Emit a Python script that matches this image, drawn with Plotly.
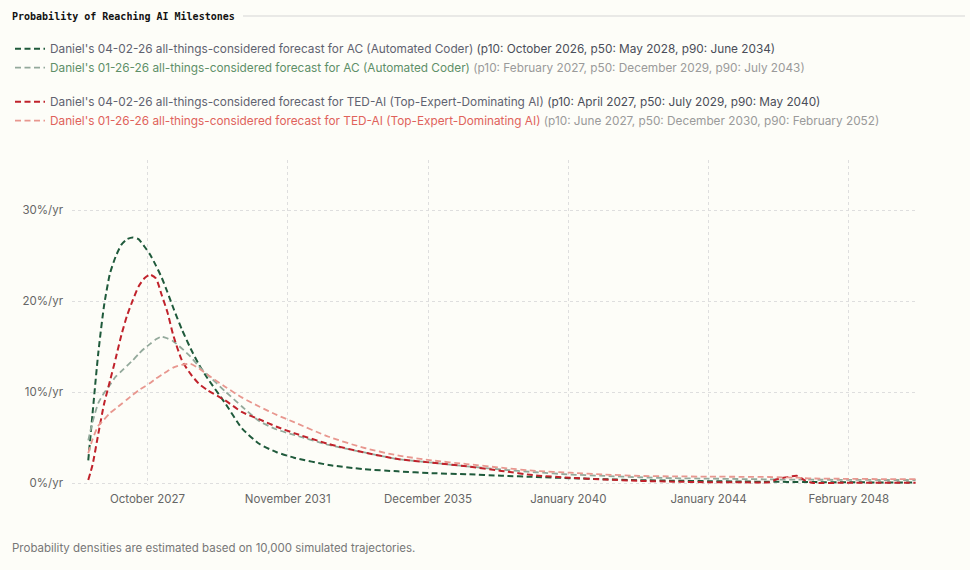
import plotly.graph_objects as go

# Sample dates (shared by all four density curves)
dates = [
    "2026-02-06", "2026-03-23", "2026-05-23", "2026-07-23", "2026-09-23", "2026-11-23",
    "2027-01-23", "2027-03-23", "2027-05-23", "2027-07-23", "2027-09-23", "2027-11-23",
    "2028-01-23", "2028-03-23", "2028-05-23", "2028-07-23", "2028-10-23", "2029-01-23",
    "2029-04-23", "2029-07-23", "2030-01-23", "2030-07-23", "2031-01-23", "2031-07-23",
    "2032-01-23", "2033-01-23", "2034-01-23", "2035-01-23", "2036-01-23", "2037-01-23",
    "2038-01-23", "2039-01-23", "2040-01-23", "2041-01-23", "2042-01-23", "2043-01-23",
    "2044-01-23", "2045-01-23", "2045-10-23", "2046-01-23", "2046-08-23", "2046-10-23",
    "2047-01-23", "2048-01-23", "2049-01-23", "2050-01-23",
]

# Probability density, %/yr
ac_new = [2.5, 7.6, 14.3, 19.5, 23.0, 24.9, 26.2, 26.8, 27.0, 26.8, 26.0, 25.1,
          23.9, 22.6, 21.0, 19.3, 16.9, 14.8, 13.0, 11.5, 8.8, 6.0, 4.3, 3.4,
          2.8, 2.0, 1.55, 1.3, 1.1, 0.98, 0.82, 0.68, 0.55, 0.43, 0.33, 0.27,
          0.22, 0.18, 0.16, 0.15, 0.13, 0.13, 0.12, 0.1, 0.08, 0.07]
ac_old = [4.7, 6.7, 8.8, 9.9, 10.8, 11.7, 12.3, 12.9, 13.5, 14.2, 14.8, 15.3,
          15.8, 16.1, 15.9, 15.6, 14.8, 13.9, 12.8, 11.9, 10.1, 8.4, 6.8, 5.9,
          5.3, 4.2, 3.4, 2.65, 2.25, 1.85, 1.5, 1.2, 0.95, 0.8, 0.65, 0.55,
          0.5, 0.45, 0.42, 0.4, 0.4, 0.4, 0.38, 0.37, 0.35, 0.35]
ted_new = [0.35, 2.0, 5.4, 8.7, 11.2, 13.7, 16.3, 18.4, 20.1, 21.6, 22.5, 22.9,
           22.5, 20.7, 18.8, 16.3, 13.5, 12.0, 10.9, 10.2, 9.1, 7.8, 7.0, 6.2,
           5.5, 4.3, 3.4, 2.65, 2.25, 1.85, 1.35, 0.85, 0.6, 0.4, 0.25, 0.17,
           0.1, 0.1, 0.1, 0.45, 0.8, 0.4, 0.05, 0.05, 0.05, 0.05]
ted_old = [3.3, 4.8, 6.3, 7.0, 7.7, 8.2, 8.7, 9.2, 9.7, 10.2, 10.6, 11.0,
           11.5, 11.9, 12.3, 12.7, 13.0, 13.1, 12.6, 11.9, 10.6, 9.4, 8.4, 7.5,
           6.7, 5.1, 3.9, 3.05, 2.5, 2.1, 1.7, 1.35, 1.15, 0.95, 0.8, 0.75,
           0.72, 0.7, 0.68, 0.65, 0.6, 0.55, 0.52, 0.48, 0.45, 0.45]

tick_dates = ["2027-10-25", "2031-11-17", "2035-12-10", "2040-01-02", "2044-01-25", "2048-02-17"]
y_ticks = [0, 10, 20, 30]

series = [
    ("ac", ac_new, "#1f5a3b", 2.0,
     "<span style='color:#5f6270'>Daniel's 04-02-26 all-things-considered forecast for AC (Automated Coder)</span>"
     " <span style='color:#4a4d58'>(p10: October 2026, p50: May 2028, p90: June 2034)</span>"),
    ("ac", ac_old, "#93a99b", 1.8,
     "<span style='color:#5e8f68'>Daniel's 01-26-26 all-things-considered forecast for AC (Automated Coder)</span>"
     " <span style='color:#9a9a9a'>(p10: February 2027, p50: December 2029, p90: July 2043)</span>"),
    ("ted", ted_new, "#c0222b", 2.0,
     "<span style='color:#5f6270'>Daniel's 04-02-26 all-things-considered forecast for TED-AI (Top-Expert-Dominating AI)</span>"
     " <span style='color:#4a4d58'>(p10: April 2027, p50: July 2029, p90: May 2040)</span>"),
    ("ted", ted_old, "#e8978f", 1.8,
     "<span style='color:#e0625b'>Daniel's 01-26-26 all-things-considered forecast for TED-AI (Top-Expert-Dominating AI)</span>"
     " <span style='color:#9a9a9a'>(p10: June 2027, p50: December 2030, p90: February 2052)</span>"),
]

fig = go.Figure()
for group, vals, color, width, label in series:
    fig.add_trace(go.Scatter(
        x=dates, y=vals, mode="lines", name=label, legendgroup=group,
        line=dict(color=color, width=width, dash="6px,3.5px", shape="spline", smoothing=0.6),
    ))

fig.update_layout(
    width=970, height=570,
    margin=dict(l=72, r=52, t=160, b=85, autoexpand=False),
    paper_bgcolor="#fdfdf8", plot_bgcolor="#fdfdf8",
    font=dict(family="Inter, Noto Sans, sans-serif", size=12, color="#666"),
    showlegend=True,
    legend=dict(
        xref="container", yref="container", x=10 / 970, y=0.94,
        xanchor="left", yanchor="top",
        traceorder="grouped", tracegroupgap=15, itemwidth=30,
        font=dict(size=11.8), bgcolor="rgba(0,0,0,0)",
    ),
    title=dict(
        text="<b>Probability of Reaching AI Milestones</b>",
        xref="container", yref="container",
        x=12 / 970, xanchor="left", y=1 - 16 / 570, yanchor="middle",
        pad=dict(l=0, r=0, t=0, b=0),
        font=dict(family="DejaVu Sans Mono", size=10, color="#111"),
    ),
)

fig.update_xaxes(
    type="date", range=["2025-08-18", "2050-02-17"],
    tickvals=tick_dates, tickformat="%B %Y",
    showgrid=True, gridcolor="#dedede", griddash="3px,3px", gridwidth=1,
    zeroline=False, showline=False, ticks="", ticklabelstandoff=5,
    tickfont=dict(size=11.5, color="#666"),
)
fig.update_yaxes(
    range=[-0.2, 35.5], tickvals=y_ticks, ticktext=[f"{v}%/yr" for v in y_ticks],
    showgrid=True, gridcolor="#dedede", griddash="3px,3px", gridwidth=1,
    zeroline=False, showline=False, ticks="", ticklabelstandoff=8,
    tickfont=dict(size=11.5, color="#666"),
)

# Rule beside the title
fig.add_shape(type="line", xref="paper", yref="paper",
              x0=(243 - 72) / 846, x1=(965 - 72) / 846,
              y0=1 + (160 - 16) / 325, y1=1 + (160 - 16) / 325,
              line=dict(color="#d5d5d5", width=1))

fig.add_annotation(
    text="Probability densities are estimated based on 10,000 simulated trajectories.",
    xref="paper", yref="paper", x=-62 / 846, y=-(548 - 485) / 325,
    xanchor="left", yanchor="middle", showarrow=False,
    font=dict(size=11.5, color="#777"),
)

fig.write_html("out.html", config={"displayModeBar": False},
               post_script="document.body.style.margin='0';")
